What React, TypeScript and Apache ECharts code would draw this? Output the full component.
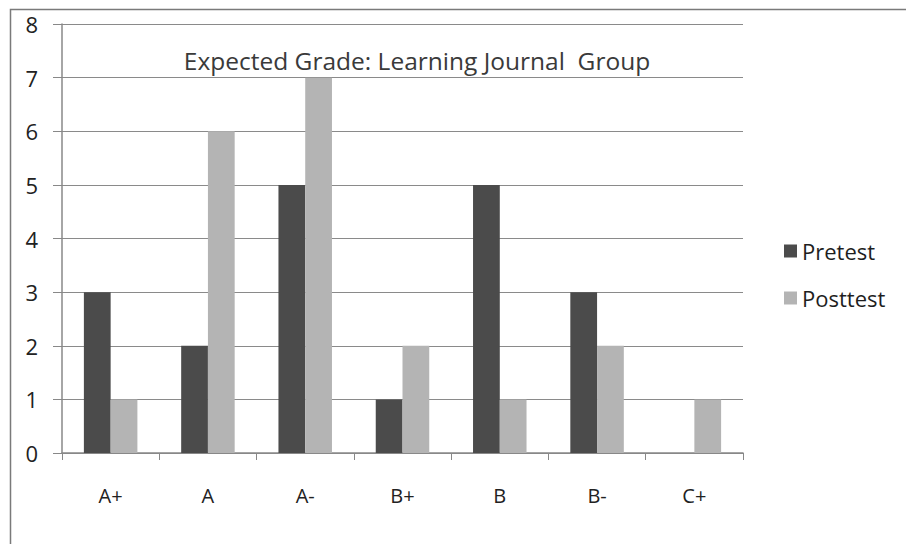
import React, { useEffect, useRef } from "react";
import * as echarts from "echarts";

const categories = ["A+", "A", "A-", "B+", "B", "B-", "C+"];
const pretest = [3, 2, 5, 1, 5, 3, 0];
const posttest = [1, 6, 7, 2, 1, 2, 1];
const titleText = "Expected Grade: Learning Journal  Group";

export default function App() {
  const ref = useRef<HTMLDivElement>(null);
  useEffect(() => {
    if (!ref.current) return;
    const chart = echarts.init(ref.current, null, { renderer: "svg" });
    const font = "'Open Sans', Calibri, sans-serif";
    chart.setOption({
      animation: false,
      backgroundColor: "#ffffff",
      textStyle: { fontFamily: font },
      grid: { left: 62, right: 163, top: 24, bottom: 91, containLabel: false },
      graphic: [
        {
          type: "rect",
          shape: { x: 10.5, y: 9.5, width: 1000, height: 1000 },
          style: { fill: "none", stroke: "#7a7a7a", lineWidth: 1.5 },
          silent: true,
        },
        {
          type: "text",
          x: 417,
          y: 60,
          style: {
            text: titleText,
            font: "24.5px " + font,
            fill: "#3a3a3a",
            textAlign: "center",
            textVerticalAlign: "middle",
          },
          z: 10,
        },
      ],
      legend: {
        orient: "vertical",
        left: 779,
        top: 235,
        itemWidth: 13,
        itemHeight: 13,
        itemGap: 25,
        icon: "rect",
        textStyle: { fontSize: 22, color: "#1e1e1e", fontFamily: font },
        data: ["Pretest", "Posttest"],
      },
      xAxis: {
        type: "category",
        data: categories,
        axisLine: { lineStyle: { color: "#888", width: 1.5 } },
        axisTick: { show: true, length: 7, lineStyle: { color: "#888" } },
        axisLabel: { fontSize: 20, color: "#222", margin: 32, fontFamily: font },
      },
      yAxis: {
        type: "value",
        min: 0,
        max: 8,
        interval: 1,
        axisLine: { show: true, lineStyle: { color: "#888", width: 1.5 } },
        axisTick: { show: true, length: 9, lineStyle: { color: "#888" } },
        axisLabel: { fontSize: 22, color: "#222", margin: 24, fontFamily: font },
        splitLine: { lineStyle: { color: "#8a8a8a", width: 1.2 } },
      },
      series: [
        {
          name: "Pretest",
          type: "bar",
          data: pretest,
          barGap: "0%",
          barCategoryGap: "45%",
          itemStyle: { color: "#4b4b4b" },
        },
        {
          name: "Posttest",
          type: "bar",
          data: posttest,
          itemStyle: { color: "#b4b4b4" },
        },
      ],
    });
    return () => chart.dispose();
  }, []);
  return (
    <div
      ref={ref}
      style={{ position: "fixed", left: 0, top: 0, width: 906, height: 544 }}
    />
  );
}
